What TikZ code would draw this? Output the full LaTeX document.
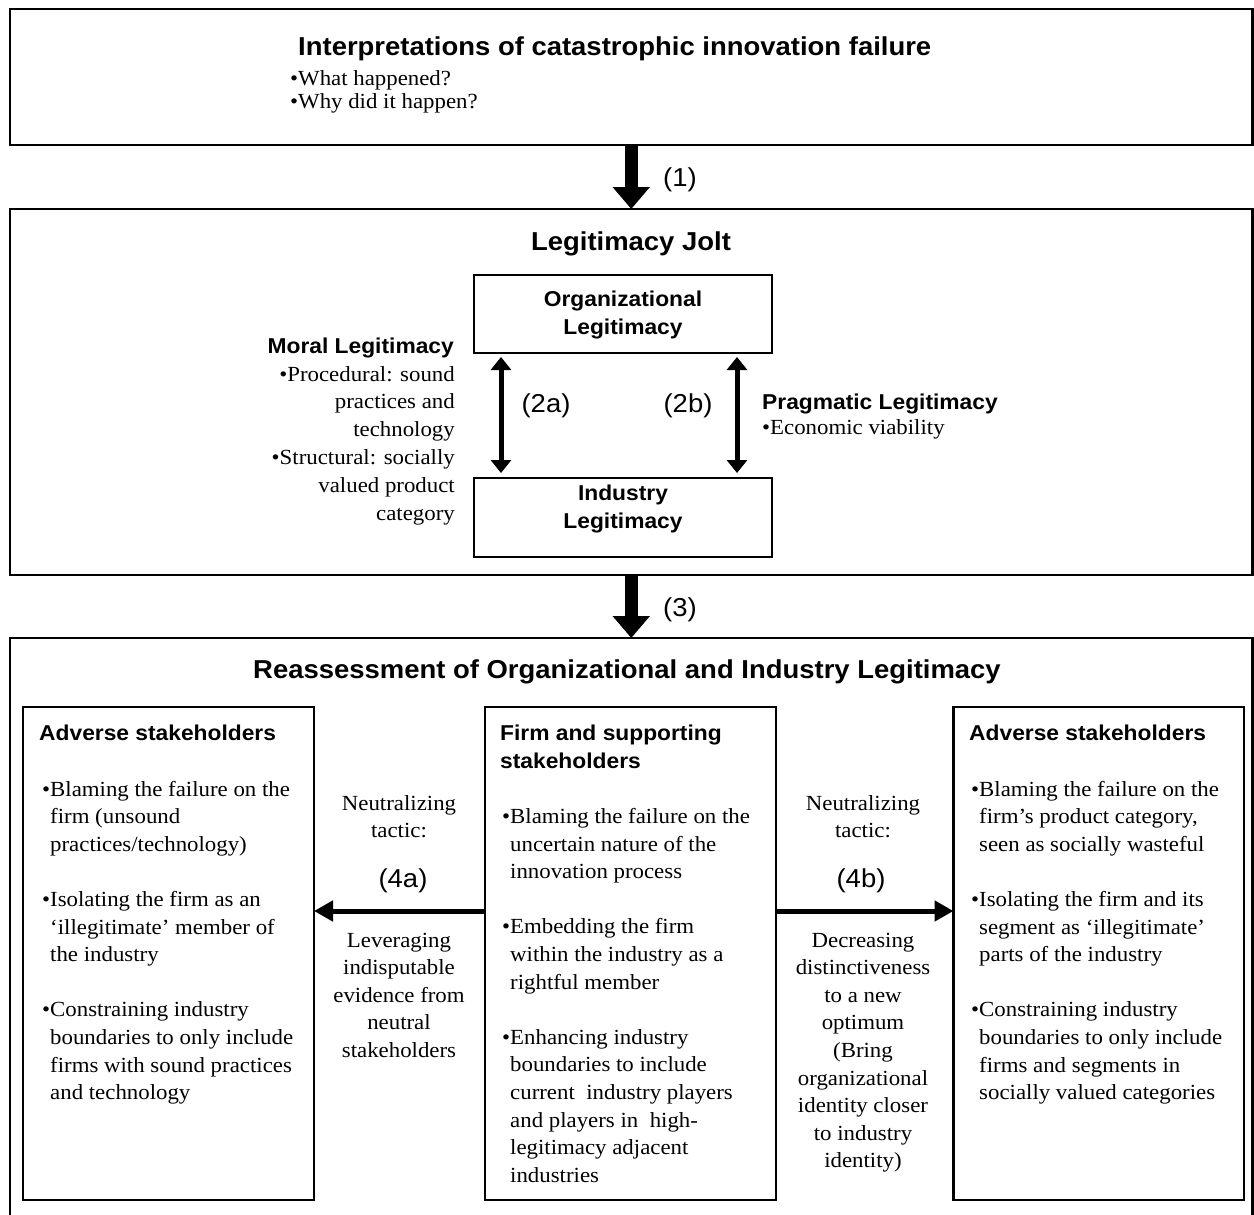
\documentclass[tikz,border=0pt]{standalone}
\usepackage{fontspec}
\setmainfont[FakeStretch=1.06]{Liberation Serif}
\setsansfont[FakeStretch=1.06]{Liberation Sans}
\usetikzlibrary{arrows.meta}
\newcommand\Lrows[1]{\vtop{\halign{##\hfil\cr#1\crcr}}}
\newcommand\Crows[1]{\vtop{\halign{\hfil##\hfil\cr#1\crcr}}}
\newcommand\Rrows[1]{\vtop{\halign{\hfil##\cr#1\crcr}}}
\begin{document}
\begin{tikzpicture}[x=1pt,y=-1pt,
  obox/.style={draw, line width=2.6pt, outer sep=0pt, inner sep=0pt, anchor=north west},
  ibox/.style={draw, line width=2.2pt, outer sep=0pt, inner sep=0pt, anchor=north west},
  bigtitle/.style={font=\sffamily\bfseries\fontsize{25.9}{29}\selectfont, inner sep=0pt},
  subtitle/.style={font=\sffamily\bfseries\fontsize{21.5}{28}\selectfont, inner sep=0pt},
  body/.style={font=\rmfamily\fontsize{21.55}{27.6}\selectfont, inner sep=0pt},
  lbl/.style={font=\sffamily\fontsize{25.9}{29}\selectfont, inner sep=0pt},
  bigarrow/.style={line width=12.5pt, -{Triangle[width=36pt,length=22pt]}},
  dblarrow/.style={line width=5pt, {Triangle[width=20pt,length=13pt]}-{Triangle[width=20pt,length=13pt]}},
  sidearrow/.style={line width=5pt, -{Triangle[width=20pt,length=19pt]}},
]
\useasboundingbox (0,0) rectangle (1254,1215);
\fill[white] (0,0) rectangle (1254,1215);

% ---- top box
\node[obox, minimum width=1242.5pt, minimum height=136pt] (interp) at (10,9) {};
\node[bigtitle, anchor=base west] (interpT) at (298,56) {Interpretations of catastrophic innovation failure};
\node[body, anchor=base west, font=\rmfamily\fontsize{21.55}{24}\selectfont] (interpB) at (290,85) {\Lrows{•What happened?\cr
•Why did it happen?}};

% ---- legitimacy jolt
\node[obox, minimum width=1242.5pt, minimum height=366pt] (jolt) at (10,209) {};
\node[bigtitle, anchor=base] (joltT) at (631,250) {Legitimacy Jolt};
\node[ibox, minimum width=298pt, minimum height=78pt] (org) at (474,275) {};
\node[subtitle, anchor=base] (orgT) at (623,306) {\Crows{Organizational\cr
Legitimacy}};
\node[ibox, minimum width=298pt, minimum height=79pt] (ind) at (474,478) {};
\node[subtitle, anchor=base] (indT) at (623,500) {\Crows{Industry\cr
Legitimacy}};

\node[subtitle, anchor=base east] (moralT) at (454,353) {Moral Legitimacy};
\node[body, anchor=base east, font=\rmfamily\fontsize{21.55}{27.8}\selectfont] (moralB) at (455,381) {\Rrows{•Procedural: sound\cr
practices and\cr
technology\cr
•Structural: socially\cr
valued product\cr
category}};

\node[subtitle, anchor=base west] (pragT) at (762,409) {Pragmatic Legitimacy};
\node[body, anchor=base west] (pragB) at (762,434) {•Economic viability};

\node[lbl] (l2a) at (546,406) {(2a)};
\node[lbl] (l2b) at (688,406) {(2b)};
\node[lbl] (l1) at (680,180) {(1)};
\node[lbl] (l3) at (680,610) {(3)};

\coordinate (xa) at (501,0);
\coordinate (xb) at (737,0);
\draw[dblarrow, shorten <=4pt, shorten >=5pt] (org.south -| xa) -- (ind.north -| xa);
\draw[dblarrow, shorten <=4pt, shorten >=5pt] (org.south -| xb) -- (ind.north -| xb);

% ---- reassessment
\node[obox, minimum width=1242.5pt, minimum height=580pt] (reass) at (10,638) {};
\node[bigtitle, anchor=base] (reassT) at (627,678) {Reassessment of Organizational and Industry Legitimacy};

\node[ibox, minimum width=291pt, minimum height=493pt] (lbox) at (23,707) {};
\node[ibox, minimum width=291pt, minimum height=493pt] (cbox) at (485,707) {};
\node[ibox, minimum width=290.5pt, minimum height=493pt] (rbox) at (953.5,707) {};

\node[subtitle, anchor=base west] (lboxT) at (39,740) {Adverse stakeholders};
\node[subtitle, anchor=base west] (cboxT) at (500,740) {\Lrows{Firm and supporting\cr
stakeholders}};
\node[subtitle, anchor=base west] (rboxT) at (969,740) {Adverse stakeholders};

\node[body, anchor=base west] (lboxB) at (50,796) {\Lrows{\llap{•}Blaming the failure on the\cr
firm (unsound\cr
practices/technology)\cr
\cr
\llap{•}Isolating the firm as an\cr
‘illegitimate’ member of\cr
the industry\cr
\cr
\llap{•}Constraining industry\cr
boundaries to only include\cr
firms with sound practices\cr
and technology}};

\node[body, anchor=base west] (cboxB) at (510,823.5) {\Lrows{\llap{•}Blaming the failure on the\cr
uncertain nature of the\cr
innovation process\cr
\cr
\llap{•}Embedding the firm\cr
within the industry as a\cr
rightful member\cr
\cr
\llap{•}Enhancing industry\cr
boundaries to include\cr
current\ \ industry players\cr
and players in\ \ high-\cr
legitimacy adjacent\cr
industries}};

\node[body, anchor=base west] (rboxB) at (979,796) {\Lrows{\llap{•}Blaming the failure on the\cr
firm’s product category,\cr
seen as socially wasteful\cr
\cr
\llap{•}Isolating the firm and its\cr
segment as ‘illegitimate’\cr
parts of the industry\cr
\cr
\llap{•}Constraining industry\cr
boundaries to only include\cr
firms and segments in\cr
socially valued categories}};

\node[body, anchor=base] (ntA) at (399,810) {\Crows{Neutralizing\cr
tactic:}};
\node[lbl] (l4a) at (403,881) {(4a)};
\node[body, anchor=base] (levA) at (399,947) {\Crows{Leveraging\cr
indisputable\cr
evidence from\cr
neutral\cr
stakeholders}};

\node[body, anchor=base] (ntB) at (863,810) {\Crows{Neutralizing\cr
tactic:}};
\node[lbl] (l4b) at (861,881) {(4b)};
\node[body, anchor=base] (decB) at (863,947) {\Crows{Decreasing\cr
distinctiveness\cr
to a new\cr
optimum\cr
(Bring\cr
organizational\cr
identity closer\cr
to industry\cr
identity)}};

\coordinate (ay) at (0,911);
\draw[sidearrow] (cbox.west |- ay) -- (lbox.east |- ay);
\draw[sidearrow] (cbox.east |- ay) -- (rbox.west |- ay);

\draw[bigarrow] (interp.south) -- (jolt.north);
\draw[bigarrow] (jolt.south) -- (reass.north);
\end{tikzpicture}
\end{document}
